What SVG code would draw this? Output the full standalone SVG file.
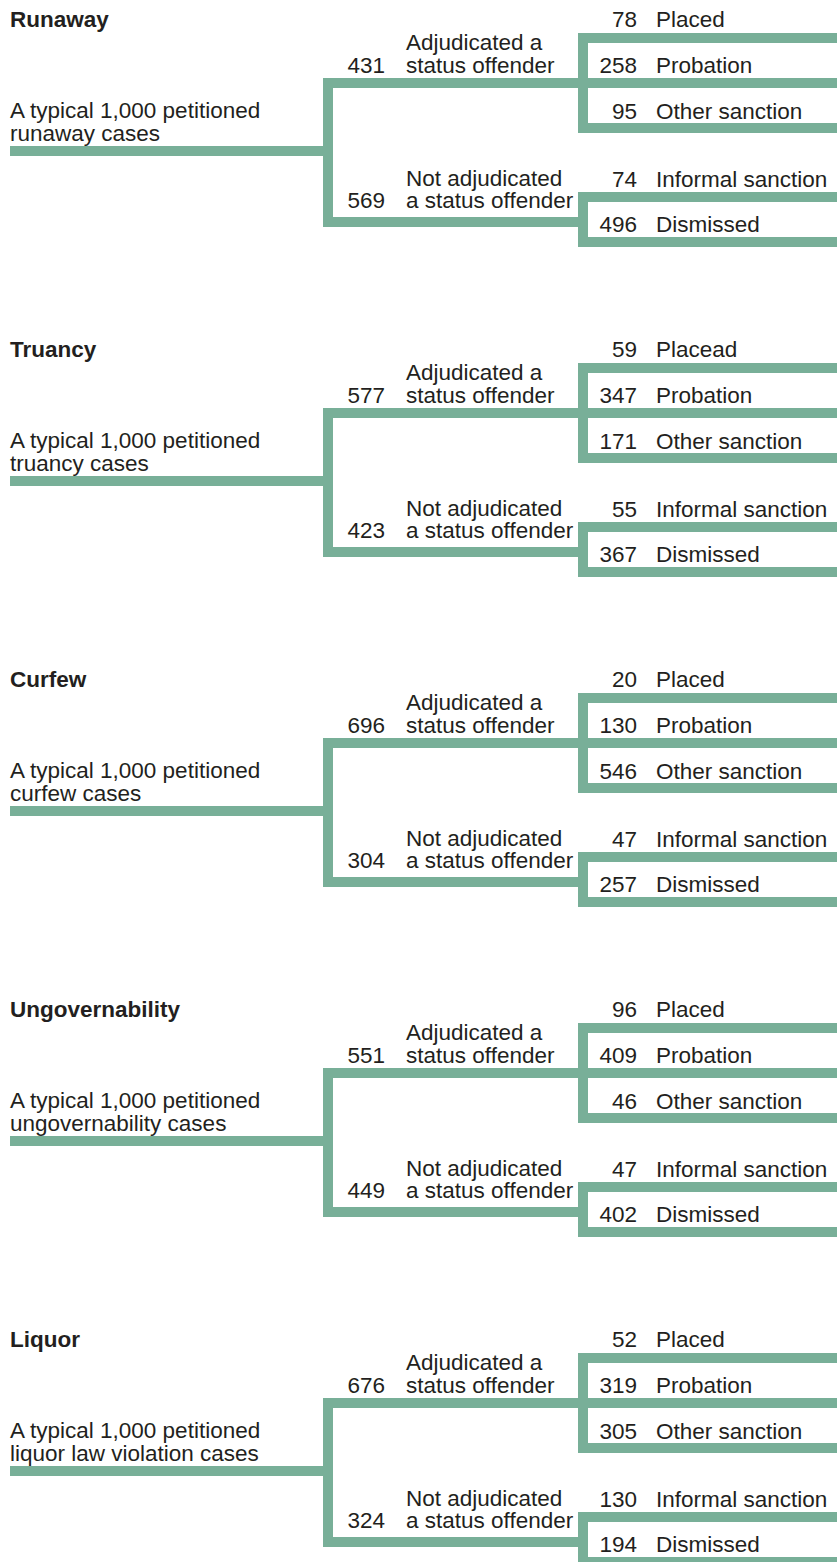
<svg xmlns="http://www.w3.org/2000/svg" width="837" height="1562" viewBox="0 0 837 1562">
<style>
text{font-family:"Liberation Sans",Arial,sans-serif;font-size:22.5px;fill:#231f20}
.t{font-weight:bold}
.n{text-anchor:end}
.c path{fill:none;stroke:#78af98;stroke-width:10;stroke-linejoin:miter;stroke-linecap:butt}
</style>
<rect width="837" height="1562" fill="#fff"/>

<g id="runaway">
<g class="c" id="runaway-connectors">
<path d="M10,151H328"/><path d="M583,83H328V222H583"/>
<path d="M837,38H583V128H837"/><path d="M583,83H837"/>
<path d="M837,197H583V242H837"/>
</g>
<g id="runaway-title"><text class="t" x="10" y="27">Runaway</text></g>
<g id="runaway-root"><text x="10" y="118">A typical 1,000 petitioned</text><text x="10" y="141">runaway cases</text></g>
<g id="runaway-adj"><text class="n" x="385" y="73">431</text><text x="406" y="50">Adjudicated a</text><text x="406" y="73">status offender</text></g>
<g id="runaway-notadj"><text class="n" x="385" y="208">569</text><text x="406" y="186">Not adjudicated</text><text x="406" y="208">a status offender</text></g>
<g id="runaway-placed"><text class="n" x="637" y="27">78</text><text x="656" y="27">Placed</text></g>
<g id="runaway-probation"><text class="n" x="637" y="73">258</text><text x="656" y="73">Probation</text></g>
<g id="runaway-other"><text class="n" x="637" y="119">95</text><text x="656" y="119">Other sanction</text></g>
<g id="runaway-informal"><text class="n" x="637" y="187">74</text><text x="656" y="187">Informal sanction</text></g>
<g id="runaway-dismissed"><text class="n" x="637" y="232">496</text><text x="656" y="232">Dismissed</text></g>
</g>

<g id="truancy" transform="translate(0,330)">
<g class="c" id="truancy-connectors">
<path d="M10,151H328"/><path d="M583,83H328V222H583"/>
<path d="M837,38H583V128H837"/><path d="M583,83H837"/>
<path d="M837,197H583V242H837"/>
</g>
<g id="truancy-title"><text class="t" x="10" y="27">Truancy</text></g>
<g id="truancy-root"><text x="10" y="118">A typical 1,000 petitioned</text><text x="10" y="141">truancy cases</text></g>
<g id="truancy-adj"><text class="n" x="385" y="73">577</text><text x="406" y="50">Adjudicated a</text><text x="406" y="73">status offender</text></g>
<g id="truancy-notadj"><text class="n" x="385" y="208">423</text><text x="406" y="186">Not adjudicated</text><text x="406" y="208">a status offender</text></g>
<g id="truancy-placed"><text class="n" x="637" y="27">59</text><text x="656" y="27">Placead</text></g>
<g id="truancy-probation"><text class="n" x="637" y="73">347</text><text x="656" y="73">Probation</text></g>
<g id="truancy-other"><text class="n" x="637" y="119">171</text><text x="656" y="119">Other sanction</text></g>
<g id="truancy-informal"><text class="n" x="637" y="187">55</text><text x="656" y="187">Informal sanction</text></g>
<g id="truancy-dismissed"><text class="n" x="637" y="232">367</text><text x="656" y="232">Dismissed</text></g>
</g>

<g id="curfew" transform="translate(0,660)">
<g class="c" id="curfew-connectors">
<path d="M10,151H328"/><path d="M583,83H328V222H583"/>
<path d="M837,38H583V128H837"/><path d="M583,83H837"/>
<path d="M837,197H583V242H837"/>
</g>
<g id="curfew-title"><text class="t" x="10" y="27">Curfew</text></g>
<g id="curfew-root"><text x="10" y="118">A typical 1,000 petitioned</text><text x="10" y="141">curfew cases</text></g>
<g id="curfew-adj"><text class="n" x="385" y="73">696</text><text x="406" y="50">Adjudicated a</text><text x="406" y="73">status offender</text></g>
<g id="curfew-notadj"><text class="n" x="385" y="208">304</text><text x="406" y="186">Not adjudicated</text><text x="406" y="208">a status offender</text></g>
<g id="curfew-placed"><text class="n" x="637" y="27">20</text><text x="656" y="27">Placed</text></g>
<g id="curfew-probation"><text class="n" x="637" y="73">130</text><text x="656" y="73">Probation</text></g>
<g id="curfew-other"><text class="n" x="637" y="119">546</text><text x="656" y="119">Other sanction</text></g>
<g id="curfew-informal"><text class="n" x="637" y="187">47</text><text x="656" y="187">Informal sanction</text></g>
<g id="curfew-dismissed"><text class="n" x="637" y="232">257</text><text x="656" y="232">Dismissed</text></g>
</g>

<g id="ungovernability" transform="translate(0,990)">
<g class="c" id="ungovernability-connectors">
<path d="M10,151H328"/><path d="M583,83H328V222H583"/>
<path d="M837,38H583V128H837"/><path d="M583,83H837"/>
<path d="M837,197H583V242H837"/>
</g>
<g id="ungovernability-title"><text class="t" x="10" y="27">Ungovernability</text></g>
<g id="ungovernability-root"><text x="10" y="118">A typical 1,000 petitioned</text><text x="10" y="141">ungovernability cases</text></g>
<g id="ungovernability-adj"><text class="n" x="385" y="73">551</text><text x="406" y="50">Adjudicated a</text><text x="406" y="73">status offender</text></g>
<g id="ungovernability-notadj"><text class="n" x="385" y="208">449</text><text x="406" y="186">Not adjudicated</text><text x="406" y="208">a status offender</text></g>
<g id="ungovernability-placed"><text class="n" x="637" y="27">96</text><text x="656" y="27">Placed</text></g>
<g id="ungovernability-probation"><text class="n" x="637" y="73">409</text><text x="656" y="73">Probation</text></g>
<g id="ungovernability-other"><text class="n" x="637" y="119">46</text><text x="656" y="119">Other sanction</text></g>
<g id="ungovernability-informal"><text class="n" x="637" y="187">47</text><text x="656" y="187">Informal sanction</text></g>
<g id="ungovernability-dismissed"><text class="n" x="637" y="232">402</text><text x="656" y="232">Dismissed</text></g>
</g>

<g id="liquor" transform="translate(0,1320)">
<g class="c" id="liquor-connectors">
<path d="M10,151H328"/><path d="M583,83H328V222H583"/>
<path d="M837,38H583V128H837"/><path d="M583,83H837"/>
<path d="M837,197H583V242H837"/>
</g>
<g id="liquor-title"><text class="t" x="10" y="27">Liquor</text></g>
<g id="liquor-root"><text x="10" y="118">A typical 1,000 petitioned</text><text x="10" y="141">liquor law violation cases</text></g>
<g id="liquor-adj"><text class="n" x="385" y="73">676</text><text x="406" y="50">Adjudicated a</text><text x="406" y="73">status offender</text></g>
<g id="liquor-notadj"><text class="n" x="385" y="208">324</text><text x="406" y="186">Not adjudicated</text><text x="406" y="208">a status offender</text></g>
<g id="liquor-placed"><text class="n" x="637" y="27">52</text><text x="656" y="27">Placed</text></g>
<g id="liquor-probation"><text class="n" x="637" y="73">319</text><text x="656" y="73">Probation</text></g>
<g id="liquor-other"><text class="n" x="637" y="119">305</text><text x="656" y="119">Other sanction</text></g>
<g id="liquor-informal"><text class="n" x="637" y="187">130</text><text x="656" y="187">Informal sanction</text></g>
<g id="liquor-dismissed"><text class="n" x="637" y="232">194</text><text x="656" y="232">Dismissed</text></g>
</g>
</svg>
